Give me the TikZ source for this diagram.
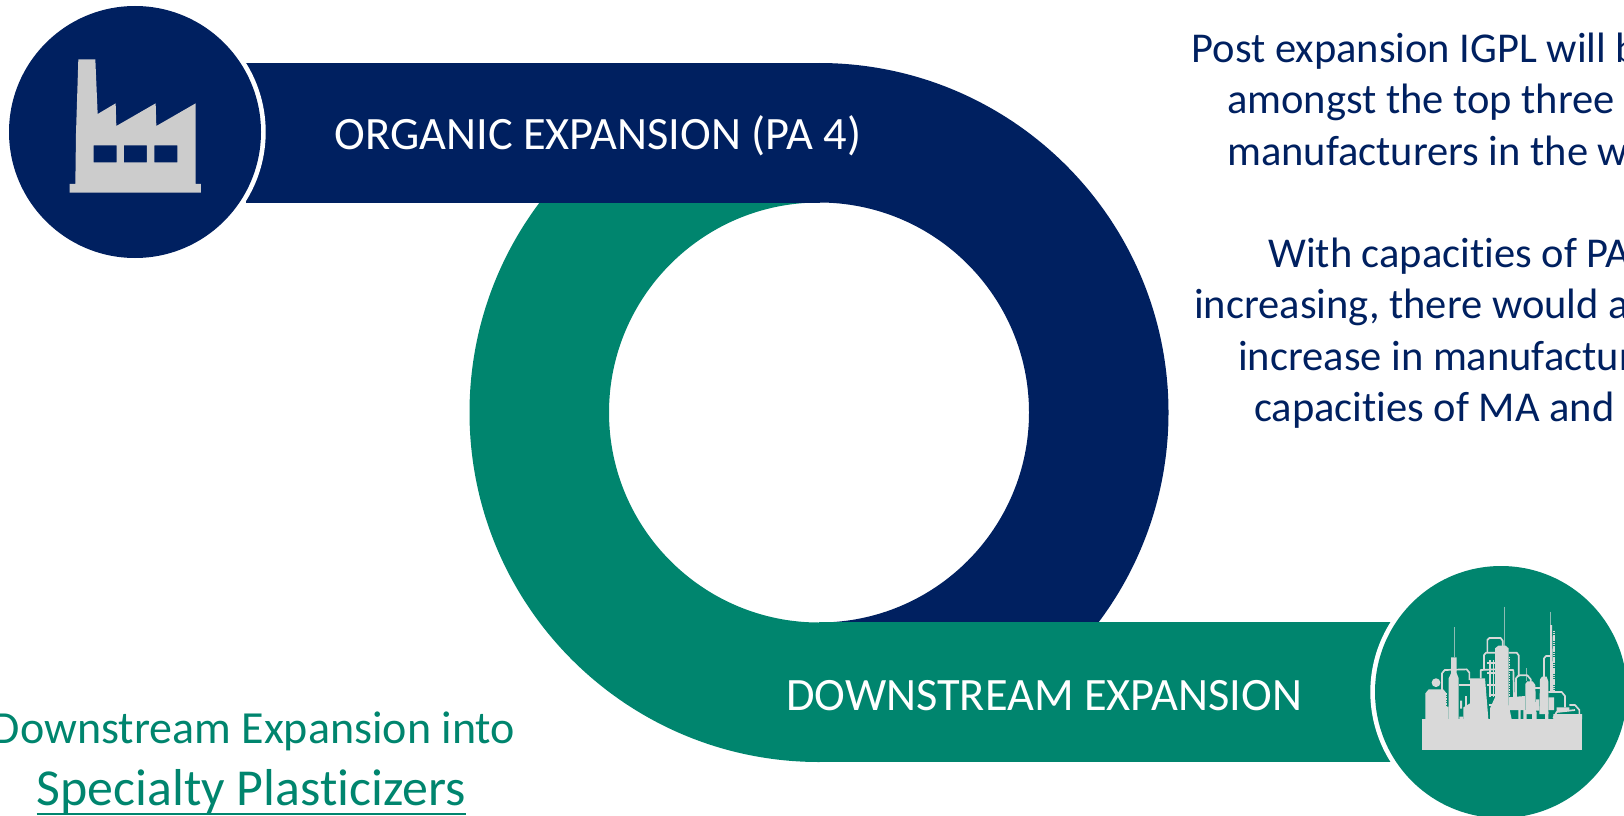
\documentclass[tikz,border=0pt]{standalone}
\usepackage{fontspec}
\setmainfont[Ligatures={NoCommon}]{Carlito}
\definecolor{navy}{HTML}{002060}
\definecolor{teal}{HTML}{00856E}
\definecolor{iconA}{HTML}{CCCCCC}
\definecolor{iconB}{HTML}{D9D9D9}
\tikzset{
  txt/.style={anchor=base west,inner sep=0pt,font=\fontsize{#1}{#1}\selectfont},
  navytxt/.style={txt=42.5,text=navy},
  bandtxt/.style={txt=46.4,text=white},
  pipe/.style={draw=iconB,line width=1.7pt,line join=round},
  thinp/.style={draw=iconB!65!teal,line width=1pt}
}
\begin{document}
\begin{tikzpicture}[x=1pt,y=-1pt]
\useasboundingbox (0,0) rectangle (1624,816);
\clip (0,0) rectangle (1624,816);
% navy band
\begin{scope}
  \clip (819,63) rectangle (1200,622);
  \fill[navy,even odd rule] (819,412.5) circle[radius=349.5pt] (819,412.5) circle[radius=210pt];
\end{scope}
\fill[navy] (246,63) rectangle (819.5,203);
% green band
\begin{scope}
  \clip (450,203) rectangle (819.5,763);
  \fill[teal,even odd rule] (819,412.5) circle[radius=349.5pt] (819,412.5) circle[radius=210pt];
\end{scope}
\fill[teal] (819,622) rectangle (1395,762);
% discs
\fill[white] (135,132) circle[radius=130.7pt];
\fill[navy] (135,132) circle[radius=126pt];
\fill[white] (1501,692) circle[radius=130.7pt];
\fill[teal] (1501,692) circle[radius=126pt];
% factory icon
\begin{scope}[x=.33333pt,y=-.33333pt]
  \fill[iconA,even odd rule] (235,178) -- (286,178) -- (293,342) -- (347,310) -- (349,378) -- (467,310) -- (469,378) -- (587,310) -- (587,552) -- (603,552) -- (603,578) -- (209,578) -- (209,552) -- (226,552) -- (228,400) -- cycle
    (281,436) rectangle (350,487) (372,436) rectangle (441,487) (463,436) rectangle (532,487);
\end{scope}
% refinery icon
\begin{scope}[shift={(1410,610)},x=.33333pt,y=-.33333pt]
  \draw[thinp] (134,52) -- (134,142) (284,-10) -- (284,107) (348,175) -- (348,214) (421,5) -- (421,45);
  \fill[iconB] (36,328) rectangle (516,420);
  \fill[iconB] (46,250) -- (56,238) -- (100,238) -- (108,248) -- (108,328) -- (46,328) -- cycle;
  \fill[iconB] (78,218) circle[radius=4.4pt];
  \fill[iconB] (116,205) -- (123,190) -- (123,142) -- (140,142) -- (140,190) -- (146,205) -- (146,328) -- (116,328) -- cycle;
  \fill[iconB] (180,205) -- (225,205) -- (232,290) -- (235,328) -- (160,328) -- (160,292) -- (180,280) -- cycle;
  \fill[iconB] (255,115) -- (265,107) -- (287,107) -- (296,115) -- (296,285) -- (305,328) -- (240,328) -- (240,295) -- (255,262) -- cycle;
  \fill[iconB] (346,222) -- (352,214) -- (368,214) -- (376,225) -- (378,312) -- (346,312) -- cycle;
  \fill[iconB] (390,208) -- (396,200) -- (410,200) -- (415,215) -- (415,312) -- (388,312) -- cycle;
  \fill[iconB] (420,45) -- (426,45) -- (430,245) -- (420,245) -- cycle;
  \fill[iconB] (296,262) -- (345,258) -- (345,300) -- (296,300) -- cycle;
  \fill[iconB] (325,300) rectangle (332,328) (340,300) rectangle (350,328) (366,305) rectangle (380,328) (378,268) rectangle (388,302) (405,305) rectangle (415,328) (430,312) rectangle (516,328) (440,292) rectangle (478,303) (415,262) rectangle (432,300) (106,290) rectangle (116,328) (148,320) rectangle (160,328) (150,272) rectangle (156,296);
  \draw[iconB,line width=1.4pt,dash pattern=on 1.5pt off .7pt] (432,62) -- (432,245);
  \draw[iconB,line width=1.4pt,dash pattern=on 1.5pt off 1pt] (298,140) -- (298,262);
  \draw[iconB,line width=1.2pt,dash pattern=on 1.5pt off 1pt] (109,250) -- (109,290);
  \draw[pipe] (96,250) -- (96,190) -- (104,180) -- (170,178) -- (178,188) -- (178,210);
  \draw[pipe] (146,226) -- (182,226);
  \draw[pipe] (168,258) -- (168,292);
  \draw[pipe] (212,205) -- (212,180) -- (255,178);
  \draw[pipe] (222,180) -- (222,135) -- (228,128) -- (255,128);
  \draw[pipe] (232,128) -- (232,90) -- (238,84) -- (272,84) -- (278,92) -- (278,110);
  \draw[pipe] (240,150) -- (240,262) (250,150) -- (250,262);
  \draw[pipe] (232,160) -- (255,160) (232,190) -- (255,190) (232,225) -- (255,225) (236,255) -- (255,255);
  \draw[pipe] (236,285) -- (250,285);
  \draw[pipe] (296,128) -- (320,128) -- (326,136) -- (326,200);
  \draw[pipe] (296,180) -- (310,180) -- (312,262);
  \draw[pipe] (318,262) -- (318,205) -- (326,196) -- (352,196) -- (362,208) -- (362,216);
  \draw[pipe] (402,202) -- (402,145) -- (408,138) -- (422,138);
  \draw[pipe] (415,246) -- (455,246) -- (465,258) -- (465,292);
  \draw[pipe] (478,285) -- (495,285) -- (508,300) -- (508,328);
  \draw[pipe] (430,325) -- (440,306) -- (495,300);
  \draw[pipe] (376,235) -- (392,235);
\end{scope}
% texts
\node[bandtxt] (organic) at (334.5,149.5) {ORGANIC EXPANSION (PA 4)};
\node[bandtxt] (down) at (786,710.5) {DOWNSTREAM EXPANSION};
\node[navytxt] (p1) at (1191.5,62.5) {Post expansion IGPL will b};
\node[navytxt] (p2) at (1227,113.5) {amongst the top three};
\node[navytxt] (p3) at (1227,165) {manufacturers in the w};
\node[navytxt] (p4) at (1268,267) {With capacities of PA};
\node[navytxt] (p5) at (1194,318) {increasing, there would a};
\node[navytxt] (p6) at (1238,370) {increase in manufactur};
\node[navytxt] (p7) at (1254,421) {capacities of MA and};
\node[txt=46,text=teal,anchor=base east] (d1) at (515.5,743) {Downstream Expansion into};
\node[txt=51.9,text=teal] (d2) at (36.5,805) {Specialty Plasticizers};
\draw[teal,line width=2pt] ([yshift=-8.5pt]d2.base west) -- ([yshift=-8.5pt]d2.base east);
\end{tikzpicture}
\end{document}
